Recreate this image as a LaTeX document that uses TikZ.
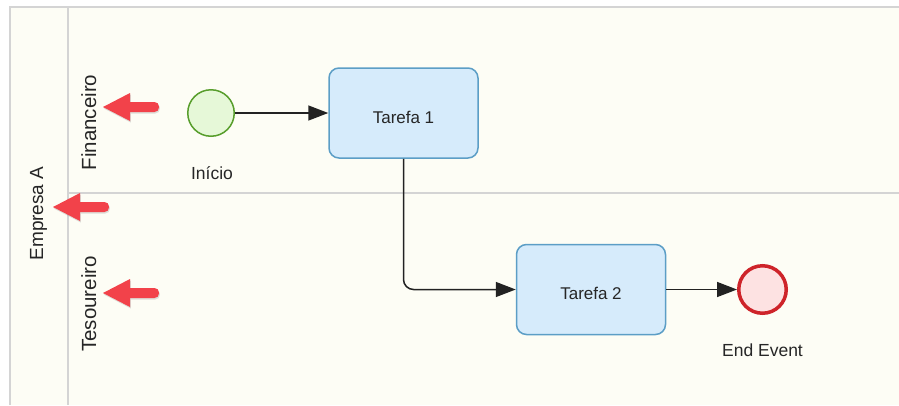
\documentclass[tikz,border=0pt]{standalone}
\usepackage{fontspec}
\setmainfont{Liberation Sans}
\usetikzlibrary{arrows.meta,shadows}

\definecolor{poolbg}{RGB}{253,253,245}
\definecolor{poolline}{RGB}{212,212,212}
\definecolor{taskfill}{RGB}{214,235,251}
\definecolor{taskline}{RGB}{92,158,198}
\definecolor{startfill}{RGB}{230,248,216}
\definecolor{startline}{RGB}{88,158,44}
\definecolor{endfill}{RGB}{253,226,226}
\definecolor{endline}{RGB}{206,36,42}
\definecolor{pointerred}{RGB}{242,66,74}
\definecolor{flowline}{RGB}{34,34,34}

\begin{document}
\begin{tikzpicture}[x=1pt,y=-1pt,
  task/.style={draw=taskline, fill=taskfill, line width=1.5pt, rounded corners=10pt,
    minimum width=149pt, minimum height=90pt, inner sep=0pt},
  tasktext/.style={font=\fontsize{17}{20}\selectfont, text=black!85},
  startev/.style={circle, draw=startline, fill=startfill, line width=1.5pt,
    minimum size=46.5pt, inner sep=0pt},
  endev/.style={circle, draw=endline, fill=endfill, line width=3.5pt,
    minimum size=47.5pt, inner sep=0pt},
  evtext/.style={anchor=base, font=\fontsize{17.5}{20}\selectfont, text=black!85},
  lanetext/.style={rotate=90, anchor=base, font=\fontsize{20.5}{24}\selectfont, text=black!85},
  pooltext/.style={rotate=90, anchor=base, font=\fontsize{19}{22}\selectfont, text=black!85},
  flow/.style={draw=flowline, line width=1.5pt, -{Triangle[length=20pt,width=15pt]}},
  laneborder/.style={draw=poolline, line width=2.6pt},
  pics/pointer/.style={code={
    \fill[pointerred, drop shadow={opacity=0.25, shadow xshift=0.8pt, shadow yshift=-1.5pt}]
      (0,0) -- (27,-14) -- (27,-5) [rounded corners=4.5pt] -- (56,-5) -- (56,5)
      [sharp corners] -- (27,5) -- (27,14) -- cycle;
  }}
]
\useasboundingbox (0,0) rectangle (899,405);

% pool and lanes
\fill[white] (0,0) rectangle (899,405);
\fill[poolbg] (10,7) rectangle (899,405);
\draw[laneborder] (10,405) -- (10,7) -- (899,7);
\draw[laneborder] (68,7) -- (68,405);
\draw[laneborder] (68,193) -- (899,193);

% pool and lane titles
\node[pooltext] (pool) at (43,213.5) {Empresa A};
\node[lanetext] (lane1) at (96,122.5) {Financeiro};
\node[lanetext] (lane2) at (96,304) {Tesoureiro};

% process elements
\node[startev] (start) at (211,113) {};
\node[evtext] (startlbl) at (212,179) {Início};
\node[task, label={[tasktext, yshift=-4pt]center:Tarefa 1}] (t1) at (403.5,113) {};
\node[task, label={[tasktext, yshift=-4pt]center:Tarefa 2}] (t2) at (591,289.5) {};
\node[endev] (end) at (762.5,289.5) {};
\node[evtext] (endlbl) at (762.5,356) {End Event};

% sequence flows
\draw[flow] (start) -- (t1);
\draw[flow, rounded corners=10pt] (t1.south) |- (t2.west);
\draw[flow] (t2) -- (end);

% red pointers
\pic at (103,107) {pointer};
\pic at (53,207) {pointer};
\pic at (103,293) {pointer};
\end{tikzpicture}
\end{document}
